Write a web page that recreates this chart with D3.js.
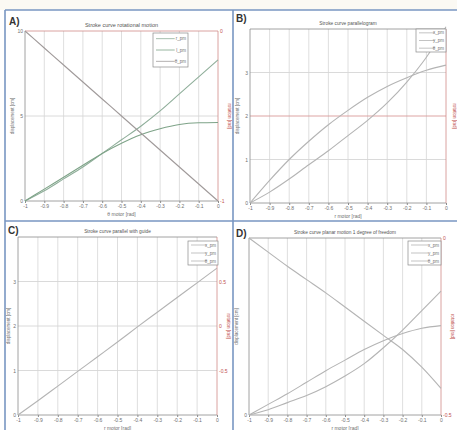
<!DOCTYPE html>
<html><head><meta charset="utf-8">
<script src="https://cdn.jsdelivr.net/npm/d3@7"></script>
<style>
html,body{margin:0;padding:0;background:#fff;}
svg{display:block;font-family:"Liberation Sans",Arial,sans-serif;}
</style></head>
<body>
<script>
// ---- data ----
const xTicks = [-1,-0.9,-0.8,-0.7,-0.6,-0.5,-0.4,-0.3,-0.2,-0.1,0];
const xTickLabels = ["-1","-0.9","-0.8","-0.7","-0.6","-0.5","-0.4","-0.3","-0.2","-0.1","0"];
const thetaMotor = [-1,-0.9,-0.8,-0.7,-0.6,-0.5,-0.4,-0.3,-0.2,-0.1,0];

const panelLabels = ["A)","B)","C)","D)"];
const titles = ["Stroke curve rotational motion","Stroke curve parallelogram","Stroke curve parallel with guide","Stroke curve planar motion 1 degree of freedom"];
const xAxisLabels = ["θ motor [rad]","r motor [rad]","r motor [rad]","r motor [rad]"];
const leftLabels = ["displacement [cm]","displacement [cm]","displacement [cm]","displacement [cm]"];
const rightLabels = ["rotation [rad]","rotation [rad]","rotation [rad]","rotation [rad]"];

const legendA = ["r_pm","l_pm","θ_pm"];
const legendB = ["x_pm","y_pm","θ_pm"];
const legendC = ["x_pm","y_pm","θ_pm"];
const legendD = ["x_pm","y_pm","θ_pm"];

// Panel A
const aRot   = [10,9,8,7,6,5,4,3,2,1,0];
const aLine  = [0,0.6,1.3,2.0,2.8,3.6,4.4,5.3,6.3,7.3,8.3];
const aCurve = [0,0.7,1.4,2.1,2.8,3.4,3.9,4.25,4.5,4.6,4.62];
const aYTicks = [0,5,10];
const aRightTicks = ["-1","0"];
// Panel B
const bUpper = [0,0.52,1.0,1.42,1.8,2.13,2.43,2.68,2.88,3.05,3.17];
const bLower = [0,0.25,0.55,0.88,1.2,1.55,1.9,2.3,2.78,3.35,4.05];
const bYTicks = [0,1,2,3];
// Panel C
const cLine = [0,0.32,0.65,0.98,1.31,1.64,1.98,2.31,2.64,2.97,3.3];
const cYTicks = [0,1,2,3];
const cRightTicks = ["-0.5","0","0.5"];
// Panel D
const dRot    = [1,0.92,0.84,0.765,0.69,0.61,0.53,0.45,0.37,0.27,0.15];
const dConvex = [0,0.03,0.07,0.11,0.16,0.22,0.29,0.38,0.48,0.59,0.70];
const dSat    = [0,0.06,0.12,0.185,0.25,0.31,0.37,0.42,0.46,0.49,0.505];
const dYTicks = [0];
const dRightTicks = ["-0.5","0"];

const W=457,H=430;
const svg=d3.select("body").append("svg").attr("width",W).attr("height",H);
svg.append("rect").attr("width",W).attr("height",H).attr("fill","#fff");
svg.append("rect").attr("width",W).attr("height",10).attr("fill","#fbf9f3");

const gray="#8c8c8c", red="#c0504d", txt="#707070";

function panel(o){
  const g=svg.append("g");
  const x=d3.scaleLinear().domain([-1,0]).range([o.x0,o.x1]);
  const y=d3.scaleLinear().domain(o.yDomain).range([o.y1,o.y0]);
  g.selectAll("line.vg").data(xTicks.slice(1,-1)).join("line")
    .attr("x1",d=>x(d)).attr("x2",d=>x(d)).attr("y1",o.y0).attr("y2",o.y1)
    .attr("stroke","#d6d6d6").attr("stroke-width",0.8);
  g.selectAll("line.hg").data(o.hGrid).join("line")
    .attr("x1",o.x0).attr("x2",o.x1).attr("y1",d=>y(d)).attr("y2",d=>y(d))
    .attr("stroke",d=>o.redGrid&&o.redGrid.includes(d)?"#d99a98":"#d6d6d6").attr("stroke-width",0.9);
  g.append("line").attr("x1",o.x0).attr("x2",o.x0).attr("y1",o.y0).attr("y2",o.y1).attr("stroke",gray).attr("stroke-width",0.8);
  g.append("line").attr("x1",o.x0).attr("x2",o.x1).attr("y1",o.y1).attr("y2",o.y1).attr("stroke",gray).attr("stroke-width",0.8);
  g.append("line").attr("x1",o.x0).attr("x2",o.x1).attr("y1",o.y0).attr("y2",o.y0).attr("stroke",o.topRed?"#d08a88":gray).attr("stroke-width",0.8);
  g.append("line").attr("x1",o.x1).attr("x2",o.x1).attr("y1",o.y0).attr("y2",o.y1).attr("stroke","#d08a88").attr("stroke-width",0.8);
  const xa=d3.axisBottom(x).tickValues(xTicks).tickFormat((d,i)=>xTickLabels[i]).tickSize(2).tickPadding(1.5);
  const gx=g.append("g").attr("transform",`translate(0,${o.y1})`).call(xa);
  gx.select(".domain").remove();
  gx.selectAll("line").attr("stroke",gray);
  gx.selectAll("text").attr("fill",txt).attr("font-size",5);
  const ya=d3.axisLeft(y).tickValues(o.yTicks).tickFormat(d3.format("~g")).tickSize(0).tickPadding(2);
  const gy=g.append("g").attr("transform",`translate(${o.x0},0)`).call(ya);
  gy.select(".domain").remove();
  gy.selectAll("text").attr("fill",txt).attr("font-size",5);
  if(o.rightTicks){
    const ry=d3.scalePoint().domain(o.rightTicks).range([o.y1,o.y0]).padding(o.rightPad||0);
    const gr=g.append("g").attr("transform",`translate(${o.x1},0)`).call(d3.axisRight(ry).tickSize(0).tickPadding(2));
    gr.select(".domain").remove();
    gr.selectAll("text").attr("fill",red).attr("font-size",5);
  }
  o.series.forEach(s=>{
    g.append("path").datum(s.v).attr("fill","none").attr("stroke",s.c).attr("stroke-width",1.1)
      .attr("d",d3.line().x((d,i)=>x(thetaMotor[i])).y(d=>y(d)).curve(d3.curveMonotoneX));
  });
  const lg=g.append("g");
  lg.append("rect").attr("x",o.leg[0]).attr("y",o.leg[1]).attr("width",o.leg[2]).attr("height",o.leg[3])
    .attr("fill","#fff").attr("stroke","#8a8a8a").attr("stroke-width",0.7);
  o.legendNames.forEach((n,i)=>{
    const yy=o.leg[1]+o.leg[3]*(i+0.5)/3;
    lg.append("line").attr("x1",o.leg[0]+3).attr("x2",o.leg[0]+o.leg[2]*0.62).attr("y1",yy).attr("y2",yy)
      .attr("stroke",o.series[Math.min(i,o.series.length-1)].c).attr("stroke-width",0.8);
    lg.append("text").attr("x",o.leg[0]+o.leg[2]-2).attr("y",yy+1.6).attr("text-anchor","end")
      .attr("font-size",4.5).attr("fill",txt).text(n);
  });
  g.append("text").attr("x",(o.x0+o.x1)/2).attr("y",o.y0-4).attr("text-anchor","middle")
    .attr("font-size",o.titleSize||5.5).attr("fill","#555").text(o.title);
  g.append("text").attr("x",(o.x0+o.x1)/2).attr("y",o.y1+15).attr("text-anchor","middle")
    .attr("font-size",5).attr("fill",txt).text(o.xLabel);
  g.append("text").attr("transform",`translate(${o.x0-(o.leftOff||11)},${(o.y0+o.y1)/2}) rotate(-90)`).attr("text-anchor","middle")
    .attr("font-size",4.5).attr("fill",txt).text(o.leftLabel);
  g.append("text").attr("transform",`translate(${o.x1+(o.rightOff||10)},${(o.y0+o.y1)/2}) rotate(90)`).attr("text-anchor","middle")
    .attr("font-size",4.5).attr("fill",red).text(o.rightLabel);
  g.append("text").attr("x",o.lab[0]).attr("y",o.lab[1]).attr("font-size",10).attr("font-weight","bold")
    .attr("fill","#333").text(o.label);
}

panel({x0:25,x1:218,y0:31,y1:201,yDomain:[0,10],yTicks:aYTicks,hGrid:[5],rightTicks:aRightTicks,topRed:true,
  series:[{v:aLine,c:"#8fae9a"},{v:aCurve,c:"#7ea388"},{v:aRot,c:"#a09a9a"}],
  legendNames:legendA,leg:[153,33,35,34],title:titles[0],xLabel:xAxisLabels[0],leftLabel:leftLabels[0],rightLabel:rightLabels[0],
  label:panelLabels[0],lab:[9,25]});
panel({x0:250,x1:446,y0:29,y1:203,yDomain:[0,4],yTicks:bYTicks,hGrid:[1,2,3],redGrid:[2],rightOff:7,
  series:[{v:bUpper,c:"#b4b4b4"},{v:bLower,c:"#b4b4b4"}],
  legendNames:legendB,leg:[416,29,30,23],title:titles[1],titleSize:4.8,xLabel:xAxisLabels[1],leftLabel:leftLabels[1],rightLabel:rightLabels[1],
  label:panelLabels[1],lab:[236,22]});
panel({x0:18,x1:217,y0:237,y1:415,yDomain:[0,4],yTicks:cYTicks,hGrid:[1,2,3],rightTicks:cRightTicks,rightPad:1,leftOff:8,
  series:[{v:cLine,c:"#b4b4b4"}],
  legendNames:legendC,leg:[188,241,30,24],title:titles[2],titleSize:4.8,xLabel:xAxisLabels[2],leftLabel:leftLabels[2],rightLabel:rightLabels[2],
  label:panelLabels[2],lab:[8,234]});
panel({x0:249,x1:441,y0:238,y1:415,yDomain:[0,1],yTicks:dYTicks,hGrid:[],rightTicks:dRightTicks,
  series:[{v:dConvex,c:"#b4b4b4"},{v:dSat,c:"#b4b4b4"},{v:dRot,c:"#b4b4b4"}],
  legendNames:legendD,leg:[408,241,33,24],title:titles[3],titleSize:4.8,xLabel:xAxisLabels[3],leftLabel:leftLabels[3],rightLabel:rightLabels[3],
  label:panelLabels[3],lab:[236,237]});

const blue="#7896c2";
[[5,10,5,H],[5,10,W,10],[233,10,233,H],[5,221,W,221]].forEach(l=>{
  svg.append("line").attr("x1",l[0]).attr("y1",l[1]).attr("x2",l[2]).attr("y2",l[3]).attr("stroke",blue).attr("stroke-width",1.6);
});
</script>
</body></html>
